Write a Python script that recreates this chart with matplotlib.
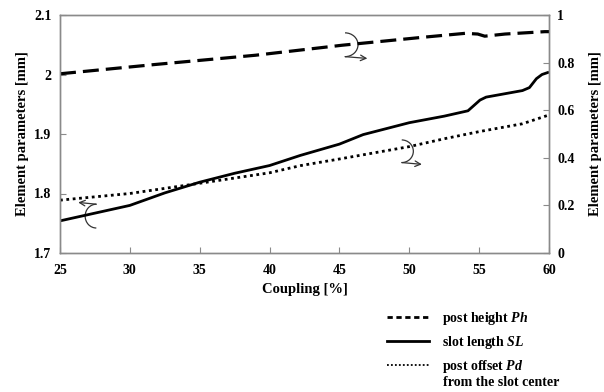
import matplotlib
matplotlib.use("Agg")
import matplotlib.pyplot as plt
from matplotlib.patches import Arc
from matplotlib.lines import Line2D

plt.rcParams["font.family"] = "Liberation Serif"
plt.rcParams["font.weight"] = "bold"
plt.rcParams["mathtext.fontset"] = "custom"
plt.rcParams["mathtext.it"] = "Liberation Serif:bold:italic"
plt.rcParams["mathtext.rm"] = "Liberation Serif:bold"

# slot length SL (left axis, mm)
sl_x = [25, 27.5, 30, 32.5, 35, 37.5, 40, 42.2, 45, 46.7, 50, 52.5, 54.2, 55.06, 55.5, 58.1, 58.6, 59.1, 59.5, 60]
sl_y = [1.754, 1.767, 1.780, 1.801, 1.819, 1.834, 1.847, 1.864, 1.883, 1.899, 1.919, 1.930, 1.939, 1.957, 1.962, 1.973, 1.978, 1.993, 2.000, 2.004]

# post height Ph (right axis, mm)
ph_x = [25, 31.8, 39.0, 45.2, 50.9, 54.0, 54.9, 55.4, 56.85, 59.7, 60]
ph_y = [0.753, 0.792, 0.831, 0.873, 0.906, 0.923, 0.920, 0.911, 0.920, 0.930, 0.930]

# post offset Pd from the slot center (right axis, mm)
pd_x = [25, 30, 35, 40, 42.2, 45, 50, 52.5, 55, 58.1, 60]
pd_y = [0.222, 0.250, 0.293, 0.337, 0.367, 0.395, 0.447, 0.480, 0.510, 0.543, 0.580]

x_ticks = [25, 30, 35, 40, 45, 50, 55, 60]
left_ticks = [1.7, 1.8, 1.9, 2.0, 2.1]
left_labels = ["1.7", "1.8", "1.9", "2", "2.1"]
right_ticks = [0, 0.2, 0.4, 0.6, 0.8, 1.0]
right_labels = ["0", "0.2", "0.4", "0.6", "0.8", "1"]

fig = plt.figure(figsize=(6.04, 3.92), dpi=100)
ax = fig.add_axes([60 / 604, 1 - 253 / 392, 489 / 604, 238 / 392])
ax2 = ax.twinx()

ax.plot(sl_x, sl_y, color="black", lw=2.0, solid_capstyle="butt")
ax2.plot(ph_x, ph_y, color="black", lw=2.3, dashes=(5, 2.2), dash_capstyle="butt")
ax2.plot(pd_x, pd_y, color="black", lw=2.0, dashes=(1, 1.3), dash_capstyle="butt")

ax.set_xlim(25, 60)
ax.set_ylim(1.7, 2.1)
ax2.set_ylim(0, 1)
ax.set_xticks(x_ticks)
ax.set_yticks(left_ticks)
ax.set_yticklabels(left_labels)
ax2.set_yticks(right_ticks)
ax2.set_yticklabels(right_labels)

for a in (ax, ax2):
    for s in a.spines.values():
        s.set_color("#8a8a8a")
        s.set_linewidth(1.0)
    a.tick_params(direction="in", length=4, width=0.8, color="#8a8a8a",
                  labelsize=10, pad=6)
    for lab in a.get_xticklabels() + a.get_yticklabels():
        lab.set_fontweight("bold")
ax.tick_params(axis="x", pad=8)

ax.set_xlabel("Coupling [%]", fontsize=10.5, fontweight="bold", labelpad=4)
ax.set_ylabel("Element parameters [mm]", fontsize=10.5, fontweight="bold", labelpad=4)
ax2.set_ylabel("Element parameters [mm]", fontsize=10.5, fontweight="bold", labelpad=10)

# curved arrows telling which axis each curve belongs to
arrow_kw = dict(arrowstyle="->", color="#333333", lw=0.9, shrinkA=0, shrinkB=0)
ax.add_patch(Arc((27.6, 1.762), 1.6, 0.040, theta1=90, theta2=270,
                 color="#333333", lw=0.9))
ax.annotate("", xy=(26.3, 1.785), xytext=(27.6, 1.782), arrowprops=arrow_kw)

ax.add_patch(Arc((45.4, 2.050), 1.86, 0.040, theta1=-90, theta2=90,
                 color="#333333", lw=0.9))
ax.annotate("", xy=(47.0, 2.027), xytext=(45.4, 2.030), arrowprops=arrow_kw)

ax.add_patch(Arc((49.46, 1.871), 1.66, 0.038, theta1=-90, theta2=90,
                 color="#333333", lw=0.9))
ax.annotate("", xy=(50.9, 1.849), xytext=(49.46, 1.852), arrowprops=arrow_kw)

# legend entries with their own, finer line styles
legend_handles = [
    Line2D([], [], color="black", lw=2.0, dashes=(1.9, 1.3), dash_capstyle="butt"),
    Line2D([], [], color="black", lw=2.0),
    Line2D([], [], color="black", lw=1.3, dashes=(1, 1.2), dash_capstyle="butt"),
]
legend_labels = ["post height $Ph$", "slot length $SL$", "post offset $Pd$"]
fig.legend(handles=legend_handles, labels=legend_labels, loc="upper left",
           bbox_to_anchor=(380 / 604, 1 - 303 / 392), frameon=False,
           prop={"weight": "bold", "size": 10}, handlelength=3.0,
           handletextpad=1.0, labelspacing=0.5, borderpad=0)
fig.text(443 / 604, 1 - 382 / 392, "from the slot center", fontsize=10,
         fontweight="bold", va="center", ha="left")

fig.savefig("out.png", dpi=100)
